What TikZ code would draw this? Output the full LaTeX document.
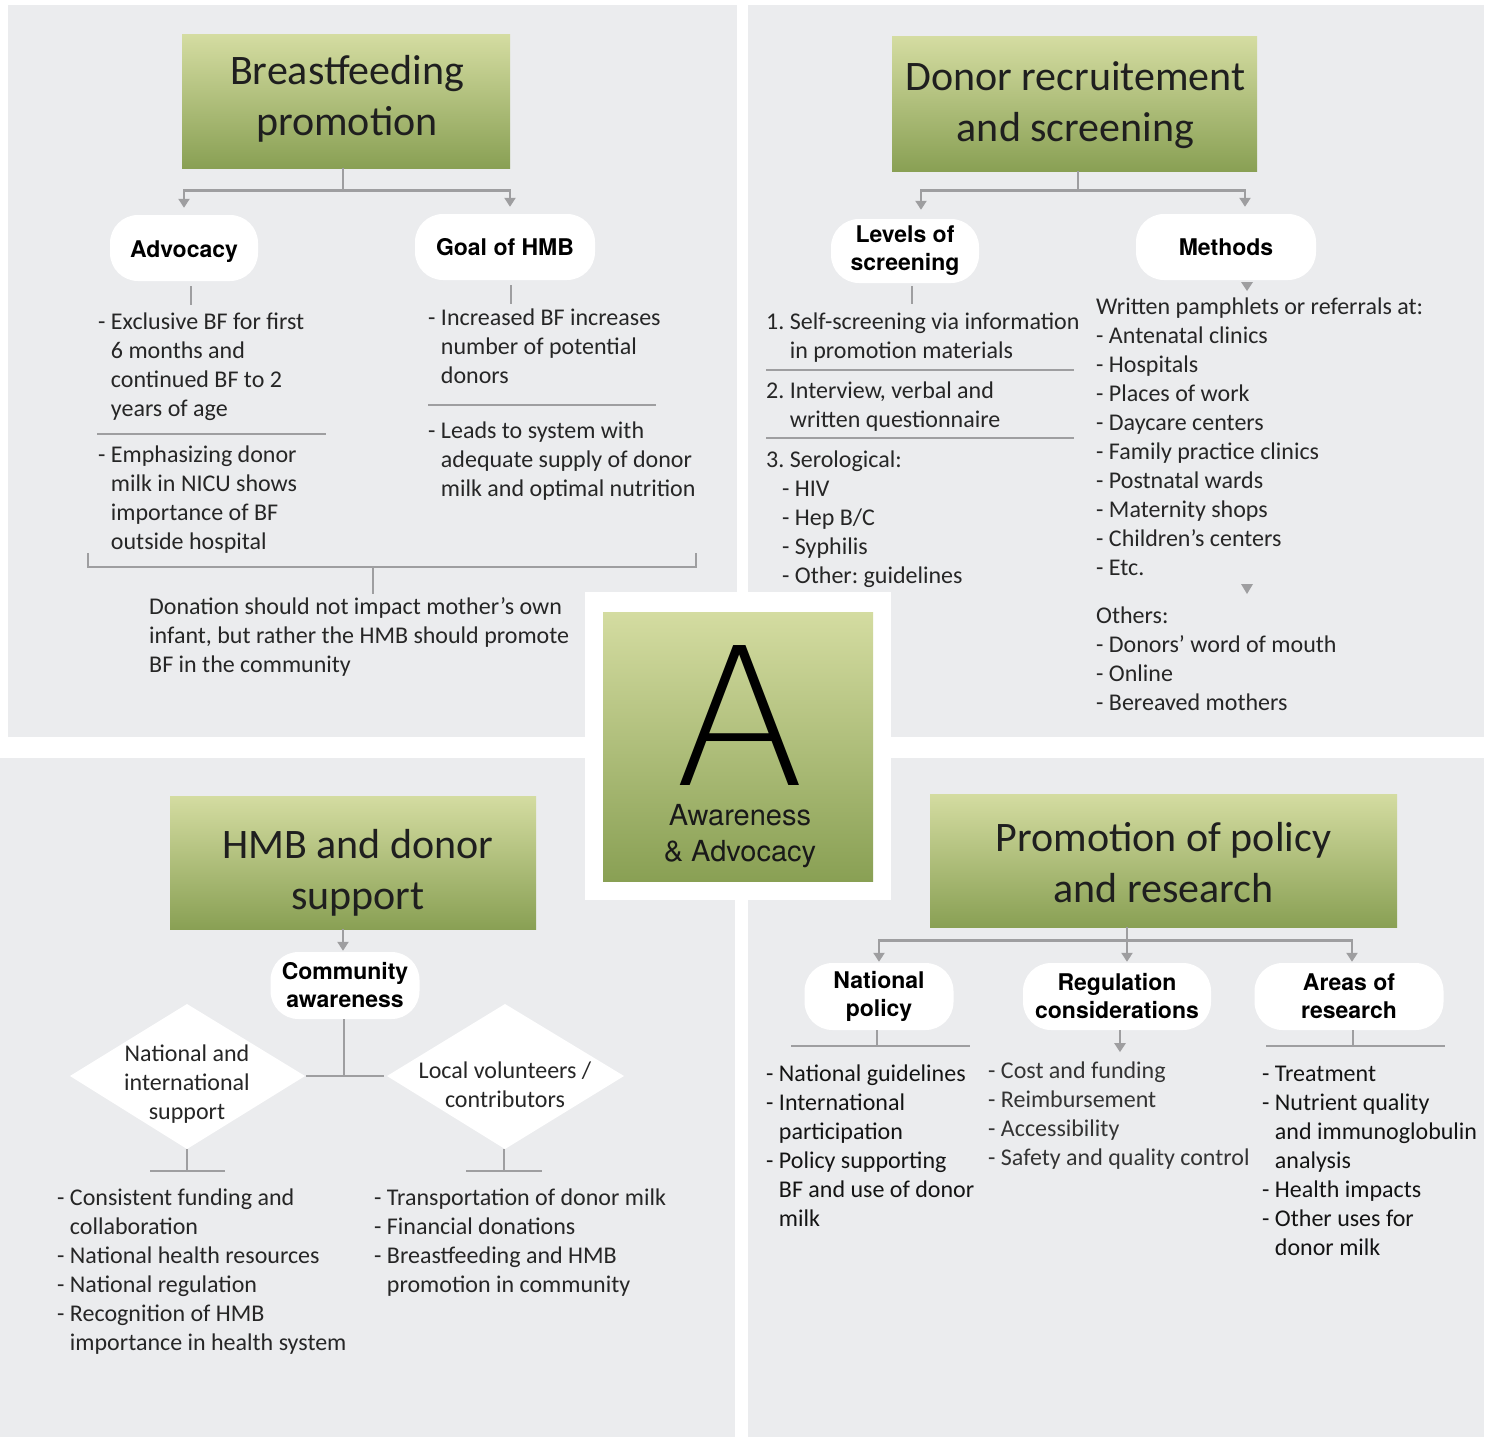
\documentclass[tikz,border=0pt]{standalone}
\usepackage{fontspec}
\setmainfont{Carlito}
\newfontfamily\helv{TeX Gyre Heros}
\newfontfamily\alight{DejaVuSans-ExtraLight.ttf}
\usetikzlibrary{arrows.meta}
\definecolor{panel}{RGB}{235,236,238}
\definecolor{gtop}{RGB}{212,220,161}
\definecolor{gbot}{RGB}{137,160,84}
\definecolor{lineg}{RGB}{158,158,160}
\definecolor{txt}{RGB}{38,38,38}
\definecolor{txtl}{RGB}{52,52,52}
\newcommand\hgind{\hphantom{-\ }}
\frenchspacing
\tikzset{
  titlebox/.style={top color=gtop, bottom color=gbot, minimum width=#1, minimum height=134pt, inner sep=0pt},
  titletext/.style={align=center, inner sep=0pt, font=\fontsize{42}{51}\selectfont, text=black!88},
  pill/.style={fill=white, rounded corners=28pt, minimum height=66pt, minimum width=#1, inner sep=0pt, align=center, font=\helv\bfseries\fontsize{23}{28}\selectfont},
  body/.style={anchor=north west, yshift=-2pt, inner sep=0pt, align=left, font=\frenchspacing\fontsize{24}{29}\selectfont, text=txt},
  dtext/.style={align=center, inner sep=0pt, font=\frenchspacing\fontsize{24}{29}\selectfont, text=txt},
  cline/.style={draw=lineg, line width=2.6pt},
  arr/.style={cline, -{Triangle[width=11pt,length=9pt]}},
  sepline/.style={draw=lineg, line width=2.2pt},
}
\begin{document}
\begin{tikzpicture}[x=1pt,y=-1pt]
\useasboundingbox (0,0) rectangle (1491,1437);
\fill[white] (0,0) rectangle (1491,1437);
% helper x positions
\coordinate (xa) at (373,0);
\coordinate (xb) at (343,0);
\coordinate (xc) at (344,0);
\coordinate (xd) at (877,0);
\coordinate (xe) at (1120,0);
\coordinate (xf) at (1353,0);
\coordinate (xg) at (1127,0);
% panels
\fill[panel] (8,5) rectangle (737,737);
\fill[panel] (748,5) rectangle (1484,737);
\fill[panel] (0,758) rectangle (735,1437);
\fill[panel] (748,758) rectangle (1484,1437);
\fill[white] (585,592) rectangle (891,900);

% ---------- centre ----------
\node[titlebox=270pt, minimum height=269pt] (ctr) at (738,746.5) {};
\node[anchor=base, inner sep=0pt, font=\alight\fontsize{192}{192}\selectfont] (bigA) at (740,785) {A};
\node[anchor=north, inner sep=0pt, align=center, font=\helv\fontsize{29}{36}\selectfont, text=black!90] (aw) at (740,800) {\strut Awareness\\\& Advocacy};

% ---------- top left ----------
\node[titlebox=328pt, minimum height=133pt] (t1) at (346,101.5) {};
\node[titletext] (t1l) at (347,99) {Breastfeeding\\promotion};
\node[pill=148pt] (adv) at (184,248) {\raisebox{0pt}[18pt][0pt]{Advocacy}};
\node[pill=180pt] (goal) at (505,247) {Goal of HMB};
\draw[arr, shorten >=7pt] ([xshift=-3pt]t1.south) -- ++(0,22) -| (adv.north);
\draw[arr, shorten >=7pt] ([xshift=-3pt]t1.south) -- ++(0,22) -| ([xshift=5pt]goal.north);
\draw[cline] ([xshift=7pt,yshift=-5pt]adv.south) -- ++(0,19);
\draw[cline] ([xshift=6pt,yshift=-5pt]goal.south) -- ++(0,19);

\node[body] (advt1) at (98,307) {\strut- Exclusive BF for first\\\hgind 6 months and\\\hgind continued BF to 2\\\hgind years of age};
\draw[sepline] (97,434) -- (326,434);
\node[body] (advt2) at (98,440) {\strut- Emphasizing donor\\\hgind milk in NICU shows\\\hgind importance of BF\\\hgind outside hospital};

\node[body] (goalt1) at (428,303) {\strut- Increased BF increases\\\hgind number of potential\\\hgind donors};
\draw[sepline] (428,405) -- (656,405);
\node[body] (goalt2) at (428,416) {\strut- Leads to system with\\\hgind adequate supply of donor\\\hgind milk and optimal nutrition};

\node[body] (don) at (149,592) {\strut Donation should not impact mother’s own\\infant, but rather the HMB should promote\\BF in the community};
\draw[cline] (88,553) -- (88,567) -- (696,567) -- (696,553);
\draw[cline] (373,567) -- (xa |- don.north);

% ---------- top right ----------
\node[titlebox=365pt] (t2) at (1074.5,104) {};
\node[titletext] (t2l) at (1075.5,105) {Donor recruitement\\and screening};
\node[pill=148pt, minimum height=64pt] (lev) at (905,251) {Levels of\\screening};
\node[pill=180pt] (meth) at (1226,247) {Methods};
\draw[arr, shorten >=9pt] ([xshift=3.5pt]t2.south) -- ++(0,19) -| ([xshift=16pt]lev.north);
\draw[arr, shorten >=7pt] ([xshift=3.5pt]t2.south) -- ++(0,19) -| ([xshift=19pt]meth.north);
\draw[cline] ([xshift=7pt,yshift=-3pt]lev.south) -- ++(0,18);

\node[body] (lev1) at (766,307) {\strut 1. Self-screening via information\\\hphantom{1.\ }in promotion materials};
\draw[sepline] (766,370) -- (1074,370);
\node[body] (lev2) at (766,376) {\strut 2. Interview, verbal and\\\hphantom{2.\ }written questionnaire};
\draw[sepline] (766,438) -- (1074,438);
\node[body] (lev3) at (766,445) {\strut 3. Serological:\\\hspace*{16pt}- HIV\\\hspace*{16pt}- Hep B/C\\\hspace*{16pt}- Syphilis\\\hspace*{16pt}- Other: guidelines};

\fill[lineg] (1241,282) -- (1253,282) -- (1247,291) -- cycle;
\node[body] (meth1) at (1096,292) {\strut Written pamphlets or referrals at:\\- Antenatal clinics\\- Hospitals\\- Places of work\\- Daycare centers\\- Family practice clinics\\- Postnatal wards\\- Maternity shops\\- Children’s centers\\- Etc.};
\fill[lineg] (1241,584) -- (1253,584) -- (1247,594) -- cycle;
\node[body] (meth2) at (1096,601) {\strut Others:\\- Donors’ word of mouth\\- Online\\- Bereaved mothers};

% ---------- bottom left ----------
\node[titlebox=366pt, minimum height=133pt] (t3) at (353,862.5) {};
\node[titletext] (t3l) at (358,872.5) {HMB and donor\\support};
\node[pill=149pt, minimum height=67pt] (comm) at (345,985.5) {Community\\awareness};
\draw[arr, shorten >=1pt] (t3.south -| xb) -- (xb |- comm.north);
\draw[cline] (xc |- comm.south) -- (344,1076);

\fill[white] (70,1076) -- (187,1004) -- (305,1076) -- (187,1149) -- cycle;
\fill[white] (387,1076) -- (505,1004) -- (624,1076) -- (505,1149) -- cycle;
\node[dtext] (natd) at (187,1084) {National and\\international\\support};
\node[dtext] (locd) at (505,1085) {Local volunteers /\\contributors};
\coordinate (natE) at (306,1076);
\coordinate (locW) at (384,1076);
\draw[cline] (natE) -- (locW);

\coordinate (natB) at (187,1149);
\coordinate (locB) at (504,1149);
\draw[cline] (natB) -- ++(0,22);
\draw[cline] (150,1171) -- (225,1171);
\draw[cline] (locB) -- ++(0,22);
\draw[cline] (466,1171) -- (542,1171);

\node[body] (natt) at (57,1183) {\strut- Consistent funding and\\\hgind collaboration\\- National health resources\\- National regulation\\- Recognition of HMB\\\hgind importance in health system};
\node[body] (loct) at (374,1183) {\strut- Transportation of donor milk\\- Financial donations\\- Breastfeeding and HMB\\\hgind promotion in community};

% ---------- bottom right ----------
\node[titlebox=467pt, minimum height=133pt] (t4) at (1163.5,860.5) {};
\node[titletext] (t4l) at (1163.5,862.5) {Promotion of policy\\and research};
\node[pill=149pt, minimum height=67pt] (np) at (879,996.5) {National\\policy};
\node[pill=188pt, minimum height=67pt] (reg) at (1117,996.5) {Regulation\\considerations};
\node[pill=189pt, minimum height=67pt] (ar) at (1349,996.5) {Areas of\\research};
\draw[arr, shorten >=1pt] (t4.south -| xg) -- (xg |- reg.north);
\draw[arr, shorten >=1pt] (t4.south -| xg) ++(0,13) -| (np.north);
\draw[arr, shorten >=1pt] (t4.south -| xg) ++(0,13) -| ([xshift=3pt]ar.north);

\draw[cline] (xd |- np.south) -- (877,1046);
\draw[cline] (791,1046) -- (970,1046);
\draw[arr] (xe |- reg.south) -- ++(0,22);
\draw[cline] (xf |- ar.south) -- (1353,1046);
\draw[cline] (1266,1046) -- (1445,1046);

\node[body, text=black!92] (npt) at (766,1059) {\strut- National guidelines\\- International\\\hgind participation\\- Policy supporting\\\hgind BF and use of donor\\\hgind milk};
\node[body, text=txtl] (regt) at (988,1056) {\strut- Cost and funding\\- Reimbursement\\- Accessibility\\- Safety and quality control};
\node[body, text=black!92] (art) at (1262,1059) {\strut- Treatment\\- Nutrient quality\\\hgind and immunoglobulin\\\hgind analysis\\- Health impacts\\- Other uses for\\\hgind donor milk};
\end{tikzpicture}
\end{document}
